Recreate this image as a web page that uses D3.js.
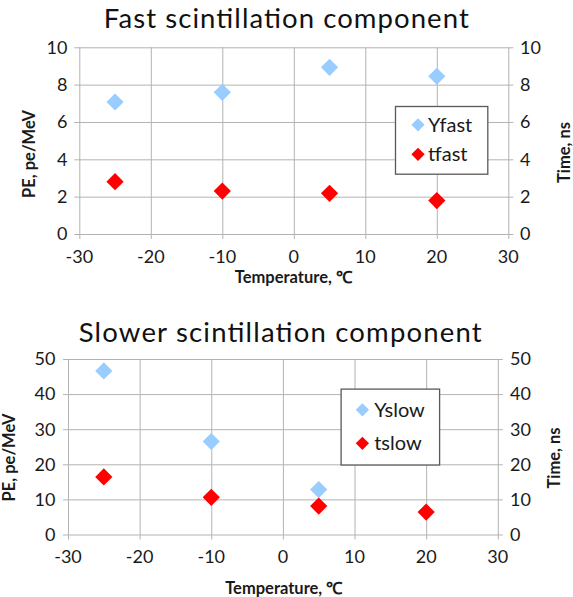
<!DOCTYPE html>
<html>
<head>
<meta charset="utf-8">
<script src="https://cdn.jsdelivr.net/npm/d3@7"></script>
<style>
  html, body { margin: 0; padding: 0; background: #fff; }
  svg { display: block; font-family: Lato, "Open Sans", sans-serif; }
</style>
</head>
<body>
<svg id="chart" width="573" height="597"></svg>
<script>
// Measured temperatures, °C
const temps = [-25, -10, 5, 20];
const slowYieldTemps = [-25, -10, 5];

// Fast component: light yield (pe/MeV) and decay time (ns)
const yFast = [7.07, 7.59, 8.93, 8.45];
const tFast = [2.80, 2.30, 2.18, 1.79];

// Slower component: light yield (pe/MeV) and decay time (ns)
const ySlow = [46.6, 26.5, 12.8];
const tSlow = [16.4, 10.6, 8.1, 6.4];

// Axis ticks
const xTicks = [-30, -20, -10, 0, 10, 20, 30];
const fastTicks = [0, 2, 4, 6, 8, 10];
const slowTicks = [0, 10, 20, 30, 40, 50];

const BLUE = "#99ccff";
const RED = "#ff0000";
const GRID = "#b3b3b3";

const svg = d3.select("#chart");

function drawPanel(cfg) {
  const g = svg.append("g");
  const x = d3.scaleLinear().domain([-30, 30]).range([cfg.left, cfg.right]);
  const yL = d3.scaleLinear().domain(cfg.domain).range([cfg.bottom, cfg.top]);
  const yR = d3.scaleLinear().domain(cfg.domain).range([cfg.bottom, cfg.top]);

  // vertical grid + bottom ticks
  const xAxis = d3.axisBottom(x).tickValues(xTicks).tickSize(-(cfg.bottom - cfg.top)).tickFormat("");
  g.append("g").attr("transform", `translate(0,${cfg.bottom})`).call(xAxis)
    .call(s => s.select(".domain").remove())
    .call(s => s.selectAll("line").attr("stroke", GRID).attr("y1", 5));

  // horizontal grid with outer ticks on both sides
  const yGrid = d3.axisLeft(yL).tickValues(cfg.ticks).tickSize(-(cfg.right - cfg.left)).tickFormat("");
  g.append("g").attr("transform", `translate(${cfg.left},0)`).call(yGrid)
    .call(s => s.select(".domain").remove())
    .call(s => s.selectAll("line").attr("stroke", GRID).attr("x1", -5).attr("x2", cfg.right - cfg.left + 5));

  // tick labels
  const lab = g.append("g").attr("font-size", 18).attr("fill", "#1a1a1a");
  lab.selectAll(".xl").data(xTicks).join("text")
    .attr("x", d => x(d)).attr("y", cfg.xLabelY).attr("dy", "0.35em")
    .attr("text-anchor", "middle").text(d => String(d));
  lab.selectAll(".yl").data(cfg.ticks).join("text")
    .attr("x", cfg.leftLabelX).attr("y", d => yL(d)).attr("dy", "0.35em")
    .attr("text-anchor", "end").text(d => d);
  lab.selectAll(".yr").data(cfg.ticks).join("text")
    .attr("x", cfg.rightLabelX).attr("y", d => yR(d)).attr("dy", "0.35em")
    .attr("text-anchor", "start").text(d => d);

  // axis titles
  const at = g.append("g").attr("font-size", 16.5).attr("font-weight", "bold").attr("fill", "#1a1a1a");
  at.append("text").attr("x", cfg.xTitle[0]).attr("y", cfg.xTitle[1])
    .attr("text-anchor", "middle").text("Temperature, \u2103");
  at.append("text").attr("transform", `translate(${cfg.yLTitle[0]},${cfg.yLTitle[1]}) rotate(-90)`)
    .attr("dy", "0.35em").attr("text-anchor", "middle").text("PE, pe/MeV");
  at.append("text").attr("transform", `translate(${cfg.yRTitle[0]},${cfg.yRTitle[1]}) rotate(-90)`)
    .attr("dy", "0.35em").attr("text-anchor", "middle").text("Time, ns");

  // chart title
  g.append("text").attr("x", cfg.title[0]).attr("y", cfg.title[1])
    .attr("text-anchor", "middle").attr("font-size", 27.5).attr("fill", "#111")
    .attr("textLength", cfg.titleWidth).attr("lengthAdjust", "spacing")
    .text(cfg.titleText);

  // data markers (squares turned 45° → diamonds)
  const diamond = d3.symbol(d3.symbolSquare, 148);
  const pts = g.append("g");
  pts.selectAll(".y").data(cfg.yieldTemps.map((t, i) => [t, cfg.yieldVals[i]])).join("path")
    .attr("d", diamond).attr("fill", BLUE)
    .attr("transform", d => `translate(${x(d[0])},${yL(d[1])}) rotate(45)`);
  pts.selectAll(".t").data(temps.map((t, i) => [t, cfg.timeVals[i]])).join("path")
    .attr("d", diamond).attr("fill", RED)
    .attr("transform", d => `translate(${x(d[0])},${yR(d[1])}) rotate(45)`);

  // legend
  const L = cfg.legend;
  const lg = g.append("g");
  lg.append("rect").attr("x", L.x0).attr("y", L.y0).attr("width", L.x1 - L.x0).attr("height", L.y1 - L.y0)
    .attr("fill", "#fff").attr("stroke", "#595959").attr("stroke-width", 1.3);
  const small = d3.symbol(d3.symbolSquare, 88);
  [[cfg.names[0], BLUE, L.rowY[0]], [cfg.names[1], RED, L.rowY[1]]].forEach(([name, col, yy]) => {
    lg.append("path").attr("d", small).attr("fill", col)
      .attr("transform", `translate(${L.mx},${yy}) rotate(45)`);
    lg.append("text").attr("x", L.tx).attr("y", yy).attr("dy", "0.35em")
      .attr("font-size", 20).attr("fill", "#1a1a1a").text(name);
  });
}

drawPanel({
  left: 79.3, right: 508.3, top: 47.3, bottom: 234,
  domain: [0, 10], ticks: fastTicks,
  xLabelY: 256.7, leftLabelX: 67.5, rightLabelX: 520,
  xTitle: [293.3, 282.7], yLTitle: [29.5, 154], yRTitle: [564.5, 152.5],
  title: [286.3, 28.3], titleWidth: 365, titleText: "Fast scintillation component",
  yieldTemps: temps, yieldVals: yFast, timeVals: tFast,
  names: ["Yfast", "tfast"],
  legend: { x0: 395.5, x1: 487.8, y0: 106.5, y1: 174.2, mx: 418, tx: 428, rowY: [124.8, 154.3] }
});

drawPanel({
  left: 68, right: 497.8, top: 359, bottom: 534.5,
  domain: [0, 50], ticks: slowTicks,
  xLabelY: 557, leftLabelX: 55.4, rightLabelX: 510,
  xTitle: [283.7, 593.8], yLTitle: [8.8, 457.5], yRTitle: [554, 458],
  title: [280.2, 342.3], titleWidth: 403, titleText: "Slower scintillation component",
  yieldTemps: slowYieldTemps, yieldVals: ySlow, timeVals: tSlow,
  names: ["Yslow", "tslow"],
  legend: { x0: 341.1, x1: 439.6, y0: 389.1, y1: 465, mx: 362.4, tx: 374.2, rowY: [409.8, 443.3] }
});
</script>
</body>
</html>
